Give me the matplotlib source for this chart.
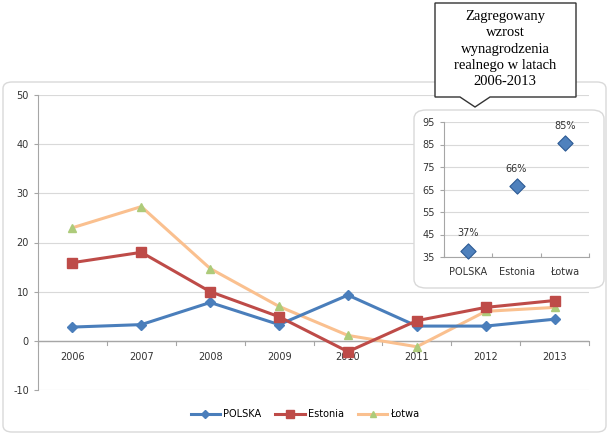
import matplotlib
matplotlib.use("Agg")
import matplotlib.pyplot as plt
from matplotlib.patches import FancyBboxPatch, Polygon
import numpy as np

plt.rcParams["axes.unicode_minus"] = False

years = ["2006", "2007", "2008", "2009", "2010", "2011", "2012", "2013"]
polska = [2.8, 3.3, 7.8, 3.3, 9.3, 3.0, 3.0, 4.4]
estonia = [15.9, 18.0, 10.0, 4.9, -2.2, 4.1, 6.8, 8.2]
lotwa = [23.0, 27.3, 14.7, 7.0, 1.1, -1.2, 6.0, 6.8]

inset_cats = ["POLSKA", "Estonia", "Łotwa"]
inset_vals = [37.8, 66.5, 85.5]
inset_labels = ["37%", "66%", "85%"]

callout_text = "Zagregowany\nwzrost\nwynagrodzenia\nrealnego w latach\n2006-2013"

W, H = 610, 437
fig = plt.figure(figsize=(W / 100, H / 100), dpi=100)
fig.patch.set_facecolor("white")

def fx(px):
    return px / W

def fy(py):
    return 1 - py / H

def rect(x0, y0, x1, y1):
    return [fx(x0), fy(y1), fx(x1) - fx(x0), fy(y0) - fy(y1)]

# outer chart frame
fig.patches.append(FancyBboxPatch((fx(3), fy(432)), fx(603), (432 - 82) / H,
                                  boxstyle="round,pad=0,rounding_size=0.015",
                                  transform=fig.transFigure, facecolor="white",
                                  edgecolor="#D9D9D9", lw=1.0, zorder=-1))

ax = fig.add_axes(rect(38, 95, 589, 390), zorder=1)
x = np.arange(len(years))
ax.set_xlim(-0.5, len(years) - 0.5)
ax.set_ylim(-10, 50)
ax.set_yticks(range(-10, 51, 10))
ax.yaxis.grid(True, color="#D9D9D9", lw=0.8)
ax.set_axisbelow(True)
for s in ["top", "right", "bottom"]:
    ax.spines[s].set_visible(False)
ax.spines["left"].set_color("#A6A6A6")
ax.axhline(0, color="#A6A6A6", lw=1.0, zorder=1)
for b in np.arange(-0.5, len(years), 1.0):
    ax.plot([b, b], [0, -0.8], color="#A6A6A6", lw=0.8, clip_on=False)
ax.set_xticks([])
for i, yl in enumerate(years):
    ax.text(i, -3.3, yl, ha="center", va="center", fontsize=7, color="#333333")
ax.tick_params(axis="y", labelsize=7, colors="#333333", length=3, color="#A6A6A6")
ax.patch.set_alpha(0)

l1, = ax.plot(x, polska, color="#4A7EBB", lw=2.2, marker="D", ms=5,
              markerfacecolor="#4A7EBB", markeredgecolor="#4A7EBB", label="POLSKA", zorder=3)
l2, = ax.plot(x, estonia, color="#BE4B48", lw=2.2, marker="s", ms=7,
              markerfacecolor="#BE4B48", markeredgecolor="#BE4B48", label="Estonia", zorder=3)
l3, = ax.plot(x, lotwa, color="#FAC08F", lw=2.2, marker="^", ms=6,
              markerfacecolor="#ADCB7A", markeredgecolor="#ADCB7A", label="Łotwa", zorder=2)

leg = fig.legend(handles=[l1, l2, l3], loc="center", bbox_to_anchor=(fx(305), fy(414)),
                 ncol=3, frameon=False, fontsize=7, handlelength=3, columnspacing=1.5,
                 handletextpad=0.3, markerscale=0.8)

# inset frame
fig.patches.append(FancyBboxPatch((fx(414), fy(288)), fx(604 - 414), (288 - 110) / H,
                                  boxstyle="round,pad=0,rounding_size=0.02",
                                  transform=fig.transFigure, facecolor="white",
                                  edgecolor="#D9D9D9", lw=1.0, zorder=5))

ai = fig.add_axes(rect(444, 122, 589, 257), zorder=6)
ai.patch.set_alpha(0)
xi = np.arange(len(inset_cats))
ai.set_xlim(-0.5, len(inset_cats) - 0.5)
ai.set_ylim(35, 95)
ai.set_yticks(range(35, 96, 10))
ai.yaxis.grid(True, color="#D9D9D9", lw=0.8)
ai.set_axisbelow(True)
for s in ["top", "right"]:
    ai.spines[s].set_visible(False)
ai.spines["left"].set_color("#A6A6A6")
ai.spines["bottom"].set_color("#A6A6A6")
ai.set_xticks(np.arange(-0.5, len(inset_cats), 1.0))
ai.set_xticklabels([])
ai.tick_params(axis="x", direction="in", length=3, color="#A6A6A6")
ai.set_xticks(xi, minor=True)
ai.set_xticklabels(inset_cats, minor=True)
ai.tick_params(axis="x", which="minor", length=0, labelsize=7, colors="#333333", pad=7)
ai.tick_params(axis="y", labelsize=7, colors="#333333", length=3, color="#A6A6A6")
ai.scatter(xi, inset_vals, marker="D", s=60, color="#4F81BD", edgecolor="#2C5A94",
           lw=0.8, zorder=3, clip_on=False)
for xv, v, t in zip(xi, inset_vals, inset_labels):
    ai.text(xv, v + 5.5, t, ha="center", va="bottom", fontsize=7, color="#333333")

# callout
pts_px = [(435, 3), (576, 3), (576, 97), (490, 97), (475, 107), (460, 97), (435, 97)]
pts = [(fx(a), fy(b)) for a, b in pts_px]
fig.patches.append(Polygon(pts, closed=True, transform=fig.transFigure,
                           facecolor="white", edgecolor="#333333", lw=1.0, zorder=7))
fig.text(fx(505), fy(49), callout_text, ha="center", va="center", fontsize=10.5,
         family="Liberation Serif", linespacing=1.33, zorder=8)

fig.savefig("out.png", dpi=100, facecolor="white")
